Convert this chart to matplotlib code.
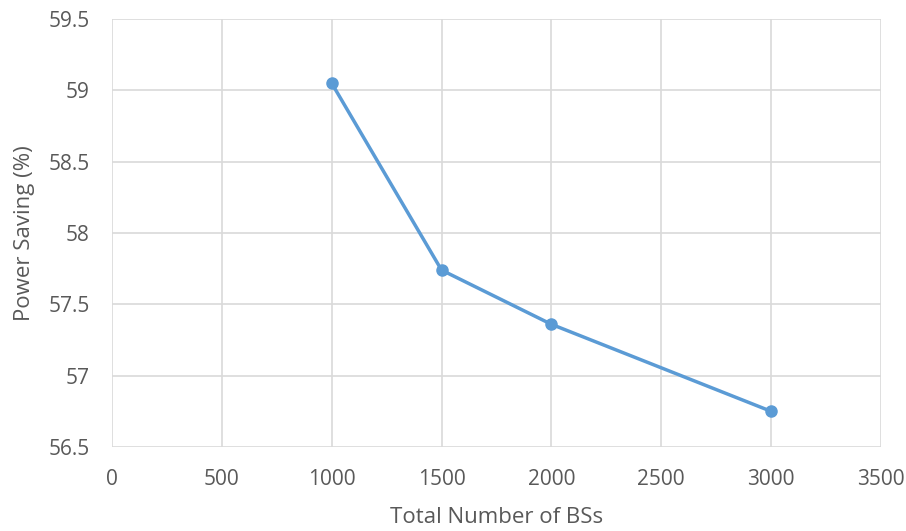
import matplotlib.pyplot as plt

# Données
nb_bs = [1000, 1500, 2000, 3000]
power_saving = [59.05, 57.74, 57.36, 56.75]
x_ticks = [0, 500, 1000, 1500, 2000, 2500, 3000, 3500]
y_ticks = [56.5, 57, 57.5, 58, 58.5, 59, 59.5]

plt.rcParams['font.family'] = ['Open Sans', 'DejaVu Sans']

fig = plt.figure(figsize=(9.06, 5.31), dpi=100)
ax = fig.add_axes([0.1236, 0.1582, 0.8488, 0.806])

ax.plot(nb_bs, power_saving, color='#5B9BD5', linewidth=2.5, marker='o',
        markersize=8, zorder=3, clip_on=False)

ax.set_xlim(0, 3500)
ax.set_ylim(56.5, 59.5)
ax.set_xticks(x_ticks)
ax.set_yticks(y_ticks)
ax.set_xticklabels([str(v) for v in x_ticks])
ax.set_yticklabels([f"{v:g}" for v in y_ticks])

ax.grid(True, color='#D9D9D9', linewidth=1.2)
for s in ax.spines.values():
    s.set_visible(False)
ax.tick_params(length=0, labelsize=15, colors='#595959')
ax.tick_params(axis='x', pad=16)
ax.tick_params(axis='y', pad=16)

ax.set_xlabel("Total Number of BSs", fontsize=16, color='#595959')
ax.set_ylabel("Power Saving (%)", fontsize=16, color='#595959')
ax.xaxis.set_label_coords(0.5, -0.14)
ax.yaxis.set_label_coords(-0.1, 0.5)

plt.savefig('out.png')
